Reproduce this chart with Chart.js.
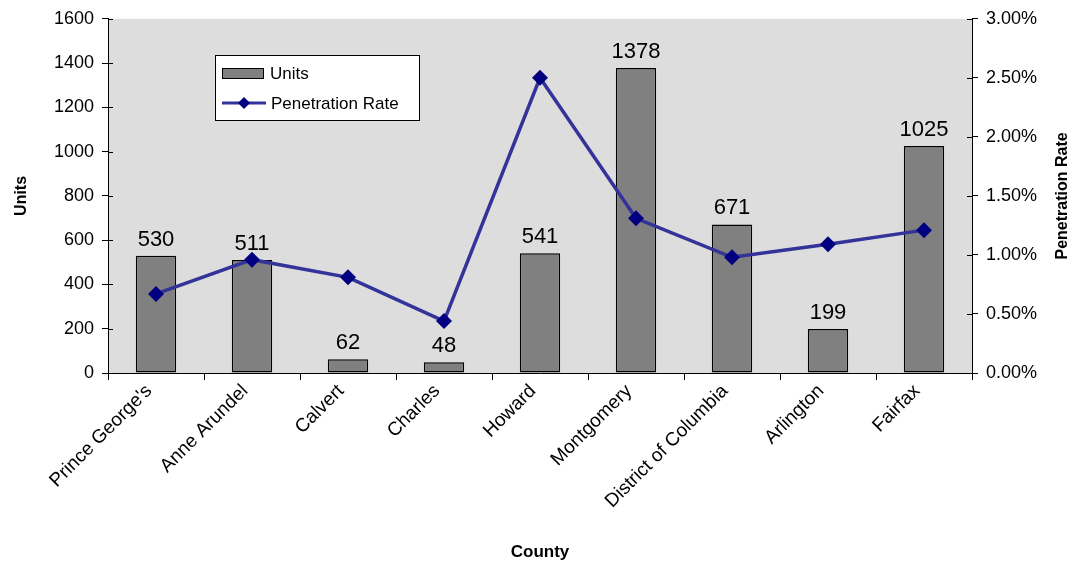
<!DOCTYPE html>
<html>
<head>
<meta charset="utf-8">
<script src="https://cdn.jsdelivr.net/npm/chart.js@4"></script>
<style>
  html, body { margin: 0; padding: 0; background: #fff; }
  #wrap { position: relative; width: 1079px; height: 565px; }
</style>
</head>
<body>
<div id="wrap"><canvas id="chart" width="1079" height="565"></canvas></div>
<script>
// ---- data ----
const counties    = ["Prince George's", 'Anne Arundel', 'Calvert', 'Charles', 'Howard',
                     'Montgomery', 'District of Columbia', 'Arlington', 'Fairfax'];
const units       = [530, 511, 62, 48, 541, 1378, 671, 199, 1025];
const penetration = [0.0067, 0.0096, 0.0081, 0.0044, 0.0250, 0.0131, 0.0098, 0.0109, 0.0121];
const unitTicks   = [0, 200, 400, 600, 800, 1000, 1200, 1400, 1600];
const rateTicks   = [0, 0.005, 0.01, 0.015, 0.02, 0.025, 0.03];

const FONT = 'Liberation Sans, Arial, sans-serif';
const BAR_FILL  = '#808080';
const LINE_COL  = '#333399';
const POINT_COL = '#000080';

// fundo cinza da área do gráfico
const plotBg = {
  id: 'plotBg',
  beforeDraw(chart) {
    const { ctx, chartArea: a } = chart;
    ctx.save();
    ctx.fillStyle = '#dddddd';
    ctx.fillRect(a.left, a.top, a.right - a.left, a.bottom - a.top);
    ctx.restore();
  }
};

// metade interna das marcas de escala (cruzam o eixo, como no original)
const innerTicks = {
  id: 'innerTicks',
  afterDraw(chart) {
    const { ctx, chartArea: a, scales } = chart;
    ctx.save();
    ctx.strokeStyle = '#000';
    ctx.lineWidth = 1;
    ctx.beginPath();
    scales.y.ticks.forEach(t => {
      const y = Math.round(scales.y.getPixelForValue(t.value)) + 0.5;
      ctx.moveTo(a.left, y); ctx.lineTo(a.left + 5, y);
    });
    scales.y2.ticks.forEach(t => {
      const y = Math.round(scales.y2.getPixelForValue(t.value)) + 0.5;
      ctx.moveTo(a.right, y); ctx.lineTo(a.right - 5, y);
    });
    ctx.stroke();
    ctx.restore();
  }
};

// rótulos de valor sobre as barras + título do eixo direito + legenda
const extras = {
  id: 'extras',
  afterDatasetsDraw(chart) {
    const { ctx, chartArea: a } = chart;
    const meta = chart.getDatasetMeta(1); // barras
    ctx.save();
    ctx.fillStyle = '#000';
    ctx.font = '22px ' + FONT;
    ctx.textAlign = 'center';
    ctx.textBaseline = 'alphabetic';
    meta.data.forEach((bar, i) => {
      ctx.fillText(String(units[i]), bar.x, bar.y - 10);
    });

    // título do eixo direito, lido de baixo para cima
    ctx.font = 'bold 16px ' + FONT;
    ctx.translate(1063, (a.top + a.bottom) / 2);
    ctx.rotate(-Math.PI / 2);
    ctx.textBaseline = 'middle';
    ctx.fillText('Penetration Rate', 0, 0);
    ctx.restore();

    // legenda
    ctx.save();
    ctx.fillStyle = '#fff';
    ctx.strokeStyle = '#000';
    ctx.lineWidth = 1;
    ctx.fillRect(215.5, 55.5, 204, 65);
    ctx.strokeRect(215.5, 55.5, 204, 65);

    ctx.fillStyle = BAR_FILL;
    ctx.fillRect(222.5, 68.5, 41, 10);
    ctx.strokeRect(222.5, 68.5, 41, 10);

    ctx.strokeStyle = LINE_COL;
    ctx.lineWidth = 3;
    ctx.beginPath();
    ctx.moveTo(222, 103);
    ctx.lineTo(266, 103);
    ctx.stroke();
    ctx.fillStyle = POINT_COL;
    ctx.beginPath();
    ctx.moveTo(244, 97); ctx.lineTo(250, 103); ctx.lineTo(244, 109); ctx.lineTo(238, 103);
    ctx.closePath();
    ctx.fill();

    ctx.fillStyle = '#000';
    ctx.font = '17px ' + FONT;
    ctx.textAlign = 'left';
    ctx.textBaseline = 'middle';
    ctx.fillText('Units', 270, 74);
    ctx.fillText('Penetration Rate', 271, 104);
    ctx.restore();
  }
};

new Chart(document.getElementById('chart'), {
  data: {
    labels: counties,
    datasets: [
      {
        type: 'line',
        label: 'Penetration Rate',
        data: penetration,
        yAxisID: 'y2',
        borderColor: LINE_COL,
        borderWidth: 3.5,
        pointStyle: 'rectRot',
        pointRadius: 8,
        pointBackgroundColor: POINT_COL,
        pointBorderColor: POINT_COL,
        pointBorderWidth: 0,
        tension: 0,
        order: 0,
      },
      {
        type: 'bar',
        label: 'Units',
        data: units,
        yAxisID: 'y',
        backgroundColor: BAR_FILL,
        borderColor: '#000',
        borderWidth: 1.5,
        borderSkipped: false,
        categoryPercentage: 1,
        barPercentage: 0.42,
        order: 1,
      },
    ],
  },
  options: {
    responsive: false,
    animation: false,
    layout: { padding: { top: 18, bottom: 0, left: 0, right: 0 } },
    plugins: {
      legend:  { display: false },
      tooltip: { enabled: false },
    },
    scales: {
      x: {
        offset: true,
        grid: { offset: true, drawOnChartArea: false, color: '#000', tickLength: 7 },
        border: { color: '#000', width: 1 },
        ticks: {
          color: '#000',
          font: { size: 19, family: FONT },
          minRotation: 45,
          maxRotation: 45,
          autoSkip: false,
          padding: 0,
          labelOffset: -7,
        },
        title: {
          display: true,
          text: 'County',
          color: '#000',
          font: { size: 17, weight: 'bold', family: FONT },
          padding: { top: 0, bottom: 2 },
        },
        afterFit(s) { s.height = 192; },
      },
      y: {
        position: 'left',
        min: 0,
        max: 1600,
        afterBuildTicks(s) { s.ticks = unitTicks.map(v => ({ value: v })); },
        grid: { drawOnChartArea: false, color: '#000', tickLength: 6 },
        border: { color: '#000', width: 1 },
        ticks: {
          color: '#000',
          font: { size: 18, family: FONT },
          padding: 8,
          callback: (v) => String(v),
        },
        title: {
          display: true,
          text: 'Units',
          color: '#000',
          font: { size: 16, weight: 'bold', family: FONT },
          padding: { top: 12, bottom: 0 },
        },
        afterFit(s) { s.width = 108; },
      },
      y2: {
        position: 'right',
        min: 0,
        max: 0.03,
        afterBuildTicks(s) { s.ticks = rateTicks.map(v => ({ value: v })); },
        grid: { drawOnChartArea: false, color: '#000', tickLength: 6 },
        border: { color: '#000', width: 1 },
        ticks: {
          color: '#000',
          font: { size: 18, family: FONT },
          padding: 8,
          callback: (v) => (v * 100).toFixed(2) + '%',
        },
        afterFit(s) { s.width = 107; },
      },
    },
  },
  plugins: [plotBg, innerTicks, extras],
});
</script>
</body>
</html>
